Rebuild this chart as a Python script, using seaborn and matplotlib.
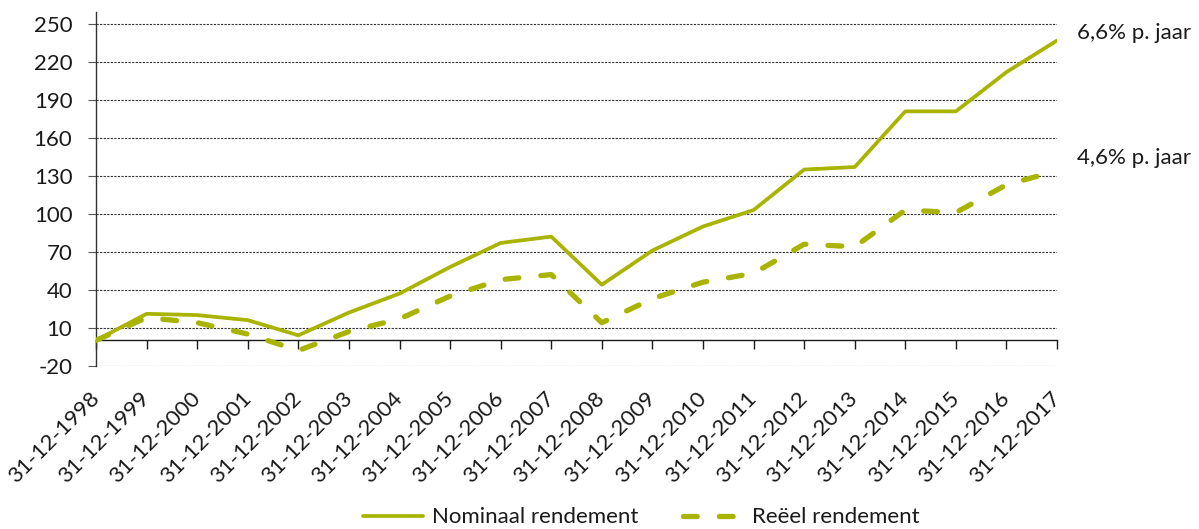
import numpy as np
import pandas as pd
import matplotlib
matplotlib.use("Agg")
import matplotlib.pyplot as plt
from matplotlib.lines import Line2D
import seaborn as sns

# ---- data ----
dates = ['31-12-1998', '31-12-1999', '31-12-2000', '31-12-2001', '31-12-2002',
         '31-12-2003', '31-12-2004', '31-12-2005', '31-12-2006', '31-12-2007',
         '31-12-2008', '31-12-2009', '31-12-2010', '31-12-2011', '31-12-2012',
         '31-12-2013', '31-12-2014', '31-12-2015', '31-12-2016', '31-12-2017']
nominaal = [0, 21, 20, 16, 4, 22, 37, 58, 77, 82, 44, 71, 90, 103, 135, 137, 181, 181, 212, 237]
reeel = [0, 18, 14, 5, -8, 7, 17, 35, 48, 52, 14, 33, 46, 53, 76, 74, 103, 101, 123, 134]
series_names = ['Nominaal rendement', 'Reëel rendement']
end_labels = ['6,6% p. jaar', '4,6% p. jaar']
y_ticks = [-20, 10, 40, 70, 100, 130, 160, 190, 220, 250]

COLOR = '#A8B400'
FS = 16

sns.set_theme(style='white')
plt.rcParams['font.family'] = ['Lato', 'DejaVu Sans']
plt.rcParams['text.color'] = '#1a1a1a'

fig = plt.figure(figsize=(11.99, 5.29), dpi=100)
ax = fig.add_axes([0.0801, 0.3087, 0.8015, 0.6686])

pos = np.arange(len(dates))
df_nom = pd.DataFrame({'pos': pos, 'value': nominaal})
df_re = pd.DataFrame({'pos': pos, 'value': reeel})

sns.lineplot(data=df_nom, x='pos', y='value', ax=ax, color=COLOR, linewidth=2.7,
             solid_capstyle='round', solid_joinstyle='round', zorder=3)
sns.lineplot(data=df_re, x='pos', y='value', ax=ax, color=COLOR, linewidth=3.8,
             linestyle=(0, (2.6, 4.2)), dash_capstyle='round', dash_joinstyle='round', zorder=3)

ax.set_xlabel('')
ax.set_ylabel('')

# spines first (set_position resets the ticks)
for s in ['top', 'right']:
    ax.spines[s].set_visible(False)
ax.spines['bottom'].set_position(('data', 0))
ax.spines['bottom'].set_color('#1a1a1a')
ax.spines['bottom'].set_linewidth(1.0)
ax.spines['left'].set_color('#333333')
ax.spines['left'].set_linewidth(1.0)

ax.set_xlim(0, len(dates) - 1)
ax.set_ylim(-20, 259.5)

ax.tick_params(axis='x', bottom=True, direction='out', length=6.5, width=1, color='#1a1a1a',
               pad=33, labelcolor='#1a1a1a', labelsize=FS)
ax.tick_params(axis='y', left=True, direction='out', length=6, width=0.8, color='#555555',
               pad=11, labelcolor='#1a1a1a', labelsize=FS)

ax.set_yticks(y_ticks)
ax.set_yticklabels([str(v) for v in y_ticks])
ax.set_xticks(pos)
ax.set_xticklabels(dates, rotation=45, ha='right', va='center', rotation_mode='anchor',
                   fontsize=FS)

ax.yaxis.grid(True, linestyle=(0, (2, 1.2)), color='#333333', linewidth=0.8)
ax.xaxis.grid(False)
ax.set_axisbelow(True)

ax.text(19.4, 243, end_labels[0], ha='left', va='center', fontsize=FS, clip_on=False)
ax.text(19.4, 144, end_labels[1], ha='left', va='center', fontsize=FS, clip_on=False)

handles = [Line2D([], [], color=COLOR, linewidth=2.7, solid_capstyle='round'),
           Line2D([], [], color=COLOR, linewidth=3.8, linestyle=(0, (2.6, 4.2)),
                  dash_capstyle='round')]
fig.legend(handles, series_names, loc='center', bbox_to_anchor=(0.535, 0.022), ncol=2,
           frameon=False, fontsize=FS, handlelength=2.7, columnspacing=2.0, handletextpad=0.4)

fig.savefig('out.png', dpi=100)
